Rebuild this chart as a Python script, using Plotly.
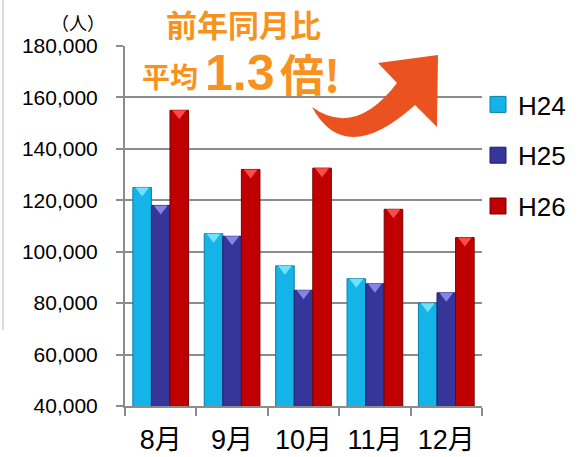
import plotly.graph_objects as go

months = ["8月", "9月", "10月", "11月", "12月"]
series_names = ["H24", "H25", "H26"]
h24 = [125000, 107000, 94500, 89500, 80000]
h25 = [118000, 106000, 85000, 87500, 84000]
h26 = [155000, 132000, 132500, 116500, 105500]
values = [h24, h25, h26]
y_ticks = [40000, 60000, 80000, 100000, 120000, 140000, 160000, 180000]

colors = ["#14B3E8", "#35359A", "#C00000"]
top_colors = ["#6FE2FF", "#8484E6", "#FF4A4A"]
edge_colors = ["#0A7FA8", "#1E1E66", "#7A0000"]

W, H = 585, 457
L, R, T, B = 125, 103, 46, 51
PW, PH = W - L - R, H - T - B
YMIN, YMAX = 40000, 180000
px_per_unit = PH / (YMAX - YMIN)

def px(x):
    return (x - L) / PW

def py(y):
    return (H - B - y) / PH

fig = go.Figure()
for i, name in enumerate(series_names):
    fig.add_trace(go.Bar(
        x=months, y=values[i], name=name, offsetgroup=str(i),
        marker=dict(color=colors[i], line=dict(color=edge_colors[i], width=1)),
        showlegend=False,
    ))
for i, name in enumerate(series_names):
    # pyramid-top highlight, flat edge sitting on bar top
    fig.add_trace(go.Scatter(
        x=months, y=[v - 3.0 / px_per_unit for v in values[i]], mode="markers",
        offsetgroup=str(i), showlegend=False, hoverinfo="skip",
        marker=dict(symbol="triangle-down", size=12, color=top_colors[i],
                    line=dict(width=0)),
    ))
for i, name in enumerate(series_names):
    fig.add_trace(go.Scatter(
        x=[None], y=[None], mode="markers", name=name, legendgroup=name,
        marker=dict(symbol="square", size=16, color=colors[i],
                    line=dict(color=edge_colors[i], width=1)),
    ))

# decorative curved arrow
pts = lambda a, b: f"{px(a):.4f},{py(b):.4f}"
path = (f"M{pts(312,107)} Q{pts(345,168)} {pts(415,105)} L{pts(437,127)} "
        f"L{pts(438,55)} L{pts(378,63)} L{pts(397,83)} Q{pts(355,138)} {pts(312,107)} Z")
fig.add_shape(type="path", path=path, xref="paper", yref="paper",
              fillcolor="#EA5320", line=dict(width=0), layer="above")
fig.add_shape(type="line", xref="paper", yref="paper",
              x0=px(3), x1=px(3), y0=py(0), y1=py(330),
              line=dict(color="#D0D0D0", width=1.5))

orange = "#F7921E"
cjk = "Noto Sans CJK JP"
def ann(text, x, y, size, family, color=orange):
    fig.add_annotation(text=text, xref="paper", yref="paper",
                       x=px(x), y=py(y), xanchor="center", yanchor="middle",
                       showarrow=False, font=dict(family=family, size=size, color=color))

ann("<b>前年同月比</b>", 243, 23, 31, cjk)
ann("<b>平均</b>", 170, 76, 28, cjk)
ann("<b>1.3</b>", 240, 73, 50, "Liberation Sans")
ann("<b>倍!</b>", 310, 73, 44, cjk)
ann("（人）", 78, 22, 18, cjk, "#000000")

fig.update_layout(
    width=W, height=H,
    margin=dict(l=L, r=R, t=T, b=B, pad=0, autoexpand=False),
    paper_bgcolor="white", plot_bgcolor="white",
    barmode="group", bargap=0.22, bargroupgap=0,
    scattermode="group", scattergap=0.22,
    font=dict(family="Liberation Sans, Noto Sans CJK JP", color="#000000"),
    legend=dict(x=px(478), xanchor="left", y=py(81), yanchor="top",
                font=dict(size=26, family="Liberation Sans"),
                tracegroupgap=14, bgcolor="rgba(0,0,0,0)"),
    xaxis=dict(showline=True, linecolor="#8C8C8C", linewidth=2,
               ticks="outside", tickson="boundaries", ticklen=8,
               tickcolor="#8C8C8C", tickwidth=1.5, automargin=False,
               tickfont=dict(size=27, family="Liberation Sans, Noto Sans CJK JP"),
               ticklabelstandoff=9, showgrid=False),
    yaxis=dict(range=[YMIN, YMAX], tickvals=y_ticks, tickformat=",",
               showline=True, linecolor="#8C8C8C", linewidth=2,
               ticks="outside", ticklen=7, tickcolor="#8C8C8C", tickwidth=1.5,
               showgrid=True, gridcolor="#8C8C8C", gridwidth=1.5, automargin=False,
               tickfont=dict(size=21, family="Liberation Sans"),
               ticklabelstandoff=14, zeroline=False),
)

fig.write_html("out.html", config={"displayModeBar": False},
               post_script="document.body.style.margin='0';document.body.style.overflow='hidden';")
